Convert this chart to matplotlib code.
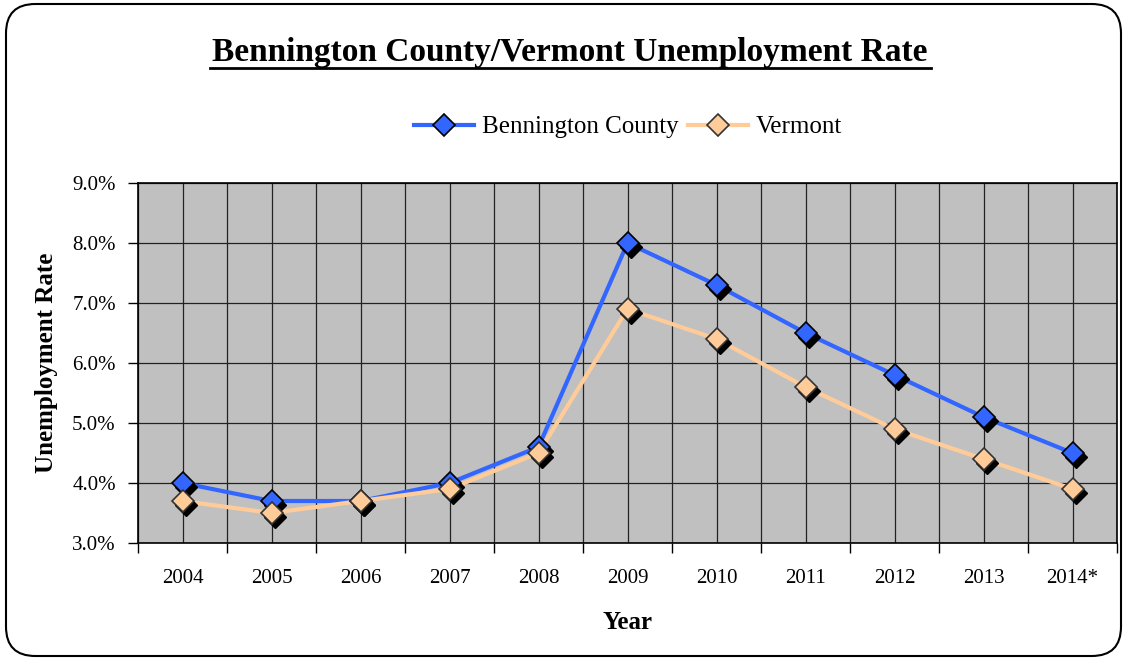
import matplotlib.pyplot as plt
from matplotlib.patches import FancyBboxPatch
from matplotlib.lines import Line2D
from matplotlib.ticker import FixedLocator, FuncFormatter
import matplotlib.transforms as mtransforms

years = ['2004', '2005', '2006', '2007', '2008', '2009', '2010', '2011', '2012', '2013', '2014*']
bennington = [4.0, 3.7, 3.7, 4.0, 4.6, 8.0, 7.3, 6.5, 5.8, 5.1, 4.5]
vermont = [3.7, 3.5, 3.7, 3.9, 4.5, 6.9, 6.4, 5.6, 4.9, 4.4, 3.9]

plt.rcParams['font.family'] = 'Liberation Serif'

fig = plt.figure(figsize=(11.28, 6.63), dpi=100)
W, H = 1128, 663

# rounded frame around the whole chart
frame = FancyBboxPatch((6 / W, 7 / H), 1115 / W, 652 / H,
                       boxstyle='round,pad=0,rounding_size=0.026',
                       transform=fig.transFigure, facecolor='none',
                       edgecolor='black', linewidth=1.5, mutation_aspect=W / H,
                       zorder=-1)
fig.patches.append(frame)

ax = fig.add_axes([138 / W, 1 - 543 / H, (1117 - 138) / W, (543 - 183) / H])
ax.set_facecolor('#C0C0C0')

x = list(range(len(years)))
ms = 11

# drop shadows under the markers
shadow = mtransforms.offset_copy(ax.transData, fig=fig, x=3, y=-4, units='dots')
ax.plot(x, bennington, linestyle='none', marker='D', markersize=ms,
        color='black', transform=shadow, zorder=3)
ax.plot(x, vermont, linestyle='none', marker='D', markersize=ms,
        color='black', transform=shadow, zorder=3)

ax.plot(x, bennington, color='#3366FF', linewidth=3, zorder=2)
ax.plot(x, vermont, color='#FFCC99', linewidth=3, zorder=2)
ax.plot(x, bennington, linestyle='none', marker='D', markersize=ms,
        markerfacecolor='#3366FF', markeredgecolor='black', markeredgewidth=1.2, zorder=4)
ax.plot(x, vermont, linestyle='none', marker='D', markersize=ms,
        markerfacecolor='#FFCC99', markeredgecolor='#333333', markeredgewidth=1.2, zorder=4)

ax.set_xlim(-0.5, len(years) - 0.5)
ax.set_ylim(3.0, 9.0)
ax.set_yticks([3, 4, 5, 6, 7, 8, 9])
ax.yaxis.set_major_formatter(FuncFormatter(lambda v, p: f'{v:.1f}%'))

# ticks on category boundaries, labels at centres
ax.xaxis.set_major_locator(FixedLocator([i - 0.5 for i in range(len(years) + 1)]))
ax.xaxis.set_minor_locator(FixedLocator(x))
ax.set_xticklabels([])
ax.set_xticks(x, years, minor=True)
ax.tick_params(axis='x', which='minor', length=0, labelsize=15, pad=19)
ax.tick_params(axis='x', which='major', length=7, width=1, direction='out')
ax.tick_params(axis='y', length=7, width=1, labelsize=15, pad=9)

ax.grid(True, which='both', axis='x', color='#222222', linewidth=0.9)
ax.grid(True, which='major', axis='y', color='#222222', linewidth=0.9)
ax.set_axisbelow(True)
for s in ax.spines.values():
    s.set_linewidth(1.2)

ax.set_ylabel('Unemployment Rate', fontsize=18, fontweight='bold', labelpad=10)
ax.set_xlabel('Year', fontsize=18, fontweight='bold', labelpad=16)

fig.text(570 / W, 1 - 53 / H, 'Bennington County/Vermont Unemployment Rate',
         ha='center', va='center', fontsize=24, fontweight='bold')
fig.add_artist(Line2D([210 / W, 931 / W], [1 - 68 / H, 1 - 68 / H],
                      transform=fig.transFigure, color='black', linewidth=2))

handles = [
    Line2D([], [], color='#3366FF', linewidth=3, marker='D', markersize=ms,
           markerfacecolor='#3366FF', markeredgecolor='black', markeredgewidth=1.2),
    Line2D([], [], color='#FFCC99', linewidth=3, marker='D', markersize=ms,
           markerfacecolor='#FFCC99', markeredgecolor='#333333', markeredgewidth=1.2),
]
fig.legend(handles, ['Bennington County', 'Vermont'], loc='center',
           bbox_to_anchor=(628 / W, 1 - 127 / H), ncol=2, frameon=False,
           fontsize=18, handlelength=2.4, columnspacing=0.4, handletextpad=0.3)

fig.savefig('out.png', dpi=100)
